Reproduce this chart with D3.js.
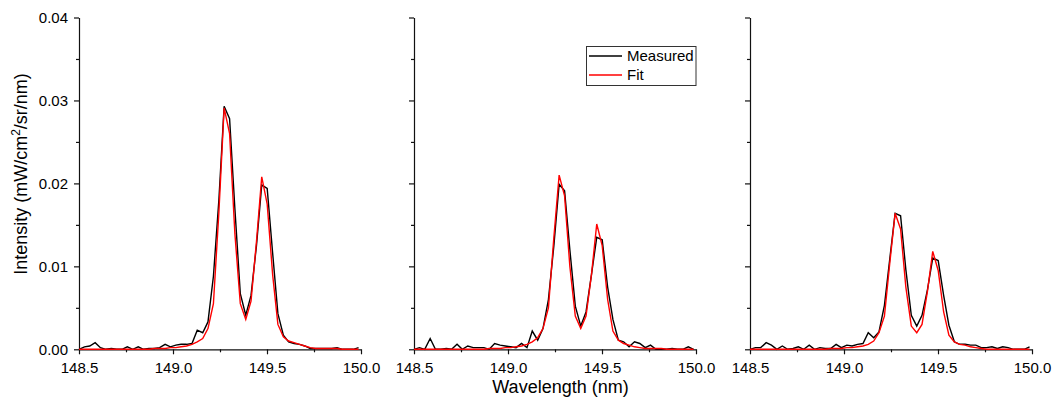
<!DOCTYPE html>
<html><head><meta charset="utf-8">
<script src="https://cdn.jsdelivr.net/npm/d3@7"></script>
<style>
body{margin:0;background:#fff}
svg{display:block}
text{font-family:"Liberation Sans",Arial,sans-serif;fill:#000}
</style>
</head><body>
<svg id="c" width="1056" height="399"></svg>
<script>
// ---------- DATA ----------
const wavelengths = [148.500,148.529,148.557,148.586,148.614,148.643,148.672,148.700,148.729,148.757,
  148.786,148.815,148.843,148.872,148.900,148.929,148.958,148.986,149.015,149.043,
  149.072,149.101,149.129,149.158,149.186,149.215,149.244,149.272,149.301,149.329,
  149.358,149.387,149.415,149.444,149.472,149.501,149.530,149.558,149.587,149.615,
  149.644,149.673,149.701,149.730,149.758,149.787,149.816,149.844,149.873,149.901,
  149.930,149.959,149.987];

const measured1 = [0.0000,0.0003,0.0004,0.0008,0.0002,0.0000,0.0001,0.0000,0.0000,0.0003,
  0.0000,0.0003,0.0000,0.0001,0.0001,0.0002,0.0006,0.0003,0.0005,0.0006,
  0.0006,0.0007,0.0023,0.0020,0.0033,0.0088,0.0180,0.0293,0.0278,0.0170,
  0.0067,0.0041,0.0065,0.0125,0.0198,0.0194,0.0116,0.0043,0.0017,0.0009,
  0.0007,0.0006,0.0004,0.0001,0.0001,0.0001,0.0001,0.0001,0.0002,0.0000,
  0.0000,0.0000,0.0002];
const fit1 = [0,0,0,0,0,0,0,0,0,0,
  0,0,0,0.0000,0.0001,0.0001,0.0001,0.0002,0.0002,0.0003,
  0.0004,0.0006,0.0009,0.0013,0.0025,0.0055,0.0165,0.0291,0.0260,0.0140,
  0.0055,0.0036,0.0058,0.0130,0.0208,0.0175,0.0090,0.0030,0.0015,0.0010,
  0.0008,0.0006,0.0004,0.0002,0.0001,0.0001,0.0001,0.0001,0.0001,0.0000,
  0.0000,0.0000,0.0000];

const measured2 = [0.0000,0.0002,0.0000,0.0013,0.0000,0.0000,0.0001,0.0000,0.0006,0.0000,
  0.0004,0.0002,0.0002,0.0002,0.0000,0.0007,0.0005,0.0004,0.0003,0.0002,
  0.0007,0.0002,0.0022,0.0011,0.0025,0.0060,0.0125,0.0199,0.0191,0.0120,
  0.0052,0.0028,0.0045,0.0090,0.0135,0.0132,0.0075,0.0036,0.0011,0.0009,
  0.0003,0.0009,0.0007,0.0002,0.0005,0.0000,0.0000,0.0000,0.0001,0.0000,
  0.0000,0.0003,0.0000];
const fit2 = [0,0,0,0,0,0,0,0,0,0,
  0,0,0,0,0.0001,0.0001,0.0001,0.0002,0.0002,0.0003,
  0.0004,0.0006,0.0009,0.0014,0.0025,0.0050,0.0135,0.0210,0.0185,0.0100,
  0.0040,0.0025,0.0040,0.0090,0.0151,0.0125,0.0060,0.0022,0.0011,0.0007,
  0.0005,0.0003,0.0002,0.0001,0.0001,0.0001,0.0001,0.0000,0.0000,0.0000,
  0.0000,0.0000,0.0000];

const measured3 = [0.0000,0.0002,0.0002,0.0008,0.0005,0.0000,0.0004,0.0000,0.0001,0.0003,
  0.0000,0.0005,0.0000,0.0002,0.0001,0.0001,0.0006,0.0002,0.0005,0.0004,
  0.0006,0.0007,0.0020,0.0014,0.0021,0.0053,0.0110,0.0164,0.0161,0.0096,
  0.0041,0.0028,0.0041,0.0072,0.0110,0.0107,0.0065,0.0029,0.0009,0.0006,
  0.0006,0.0005,0.0005,0.0002,0.0002,0.0003,0.0001,0.0003,0.0002,0.0000,
  0.0000,0.0000,0.0003];
const fit3 = [0,0,0,0,0,0,0,0,0,0,
  0,0,0,0,0.0000,0.0001,0.0001,0.0001,0.0002,0.0002,
  0.0003,0.0004,0.0006,0.0010,0.0020,0.0040,0.0105,0.0164,0.0145,0.0075,
  0.0028,0.0020,0.0030,0.0070,0.0118,0.0095,0.0045,0.0017,0.0009,0.0006,
  0.0005,0.0003,0.0002,0.0001,0.0000,0.0000,0.0000,0.0000,0.0000,0.0000,
  0.0000,0.0000,0.0000];

const xMajorTicks = [148.5, 149.0, 149.5, 150.0];
const xMinorTicks = [148.75, 149.25, 149.75];
const yMajorTicks = [0.00, 0.01, 0.02, 0.03, 0.04];
const yMinorTicks = [0.005, 0.015, 0.025, 0.035];
const seriesNames = ["Measured", "Fit"];
const seriesColors = ["#000000", "#ff0000"];
const xTitle = "Wavelength (nm)";

// ---------- LAYOUT ----------
const svg = d3.select("#c");
const panelLeft = [79, 414, 750];
const panelW = 282;
const plotTop = 17.5, plotBottom = 349.3;

const panels = [
  {measured: measured1, fit: fit1},
  {measured: measured2, fit: fit2},
  {measured: measured3, fit: fit3}
];

const y = d3.scaleLinear().domain([0, 0.04]).range([plotBottom, plotTop]);

panels.forEach((p, k) => {
  const x = d3.scaleLinear().domain([148.5, 150.0]).range([panelLeft[k], panelLeft[k] + panelW]);
  const g = svg.append("g");

  // minor x ticks
  const xm = g.append("g").attr("transform", `translate(0,${plotBottom})`)
    .call(d3.axisBottom(x).tickValues(xMinorTicks).tickSize(3).tickFormat(""));
  xm.select(".domain").remove();
  // major x axis
  const xa = g.append("g").attr("transform", `translate(0,${plotBottom})`)
    .call(d3.axisBottom(x).tickValues(xMajorTicks).tickSize(5).tickSizeOuter(0).tickPadding(8).tickFormat(d3.format(".1f")));
  xa.selectAll("text").attr("font-size", 15).attr("font-family", '"Liberation Sans",Arial,sans-serif').attr("fill", "#000");

  // minor y ticks
  const ym = g.append("g").attr("transform", `translate(${panelLeft[k]},0)`)
    .call(d3.axisLeft(y).tickValues(yMinorTicks).tickSize(3).tickFormat(""));
  ym.select(".domain").remove();
  // major y axis
  const ya = g.append("g").attr("transform", `translate(${panelLeft[k]},0)`)
    .call(d3.axisLeft(y).tickValues(yMajorTicks).tickSize(5).tickSizeOuter(0).tickPadding(6)
      .tickFormat(k === 0 ? d3.format(".2f") : ""));
  ya.selectAll("text").attr("font-size", 15).attr("font-family", '"Liberation Sans",Arial,sans-serif').attr("fill", "#000");

  g.selectAll(".domain, .tick line").attr("stroke", "#111").attr("stroke-width", 1.2);

  const line = d3.line().x((d, i) => x(wavelengths[i])).y(d => y(d));
  g.append("path").datum(p.measured).attr("d", line)
    .attr("fill", "none").attr("stroke", seriesColors[0]).attr("stroke-width", 1.4).attr("stroke-linejoin", "miter");
  g.append("path").datum(p.fit).attr("d", line)
    .attr("fill", "none").attr("stroke", seriesColors[1]).attr("stroke-width", 1.4).attr("stroke-linejoin", "miter");
});

// Y axis title
const yt = svg.append("text")
  .attr("transform", "translate(27,174) rotate(-90)")
  .attr("text-anchor", "middle")
  .attr("font-size", 18);
yt.append("tspan").text("Intensity (mW/cm");
yt.append("tspan").attr("font-size", 12).attr("dy", -7).text("2");
yt.append("tspan").attr("dy", 7).text("/sr/nm)");

// X axis title
svg.append("text").attr("x", 560.5).attr("y", 393).attr("text-anchor", "middle")
  .attr("font-size", 18).text(xTitle);

// Legend
const lg = svg.append("g");
lg.append("rect").attr("x", 586.5).attr("y", 46.5).attr("width", 109.5).attr("height", 39)
  .attr("fill", "#fff").attr("stroke", "#333").attr("stroke-width", 1);
seriesNames.forEach((n, i) => {
  const yy = 56 + i * 19;
  lg.append("line").attr("x1", 589).attr("x2", 622).attr("y1", yy).attr("y2", yy)
    .attr("stroke", seriesColors[i]).attr("stroke-width", 1.4);
  lg.append("text").attr("x", 627).attr("y", yy).attr("dy", "0.35em")
    .attr("font-size", 15).text(n);
});
</script>
</body></html>
